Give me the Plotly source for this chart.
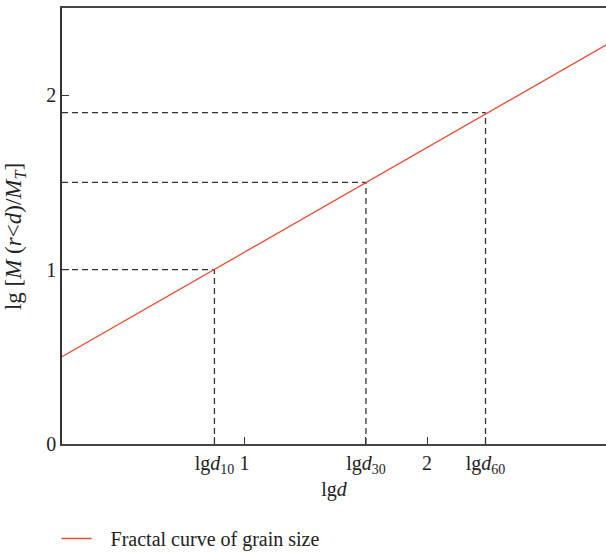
import plotly.graph_objects as go

# Fractal curve (lg d vs lg[M(r<d)/M_T])
curve_x = [0.0, 3.0]
curve_y = [0.5, 2.3]

# Characteristic grain sizes
char_x = [0.835, 1.665, 2.32]
char_y = [1.0, 1.5, 1.9]
char_labels = ["lg<i>d</i><sub>10</sub>", "lg<i>d</i><sub>30</sub>", "lg<i>d</i><sub>60</sub>"]

x_ticks = [1, 2]
y_ticks = [0, 1, 2]

FONT = "Liberation Serif"
RED = "#ee4a2f"
DASH = "#333333"
FS = 20

fig = go.Figure()

for cx, cy in zip(char_x, char_y):
    fig.add_trace(go.Scatter(x=[cx, cx], y=[0, cy], mode="lines",
                             line=dict(color=DASH, width=1.3, dash="6px,4px"),
                             showlegend=False, hoverinfo="skip"))
    fig.add_trace(go.Scatter(x=[0, cx], y=[cy, cy], mode="lines",
                             line=dict(color=DASH, width=1.3, dash="6px,4px"),
                             showlegend=False, hoverinfo="skip"))

fig.add_trace(go.Scatter(x=curve_x, y=curve_y, mode="lines",
                         line=dict(color=RED, width=1.3),
                         name="\u2002\u2009Fractal curve of grain size"))

tickvals = x_ticks + char_x
ticktext = [str(v) for v in x_ticks] + char_labels

fig.update_layout(
    width=606, height=558,
    margin=dict(l=62, r=0, t=8, b=108),
    paper_bgcolor="white", plot_bgcolor="white",
    font=dict(family=FONT, size=FS, color="#222222"),
    showlegend=True,
    legend=dict(orientation="h", x=-0.01, xanchor="left", y=-0.217, yanchor="middle",
                font=dict(family=FONT, size=FS, color="#222222"),
                bgcolor="rgba(0,0,0,0)"),
    xaxis=dict(range=[0, 2.98], tickvals=tickvals, ticktext=ticktext,
               ticks="inside", ticklen=7, tickcolor="#333333", tickwidth=1.2,
               showline=True, linecolor="#444444", linewidth=1.5, mirror=True,
               showgrid=False, zeroline=False, tickfont=dict(size=FS),
               title=dict(text="lg<i>d</i>", standoff=6, font=dict(family=FONT, size=FS))),
    yaxis=dict(range=[0, 2.5], tickvals=y_ticks, ticktext=[str(v) for v in y_ticks],
               ticks="inside", ticklen=7, tickcolor="#333333", tickwidth=1.2,
               showline=True, linecolor="#333333", linewidth=1.5, mirror=False,
               showgrid=False, zeroline=False, tickfont=dict(size=FS)),
    annotations=[dict(
        text="lg [<i>M</i> (<i>r</i><<i>d</i>)/<i>M</i><sub><i>T</i></sub>]",
        xref="paper", yref="paper", x=-0.086, y=0.475,
        xanchor="center", yanchor="middle", textangle=-90, showarrow=False,
        font=dict(family=FONT, size=23, color="#222222"))],
)

post = (
    "document.documentElement.style.margin='0';"
    "document.documentElement.style.padding='0';"
    "document.documentElement.style.overflow='hidden';"
    "document.body.style.margin='0';"
    "document.body.style.padding='0';"
    "document.body.style.overflow='hidden';"
)
fig.write_html("out.html", config={"displayModeBar": False}, post_script=post)
